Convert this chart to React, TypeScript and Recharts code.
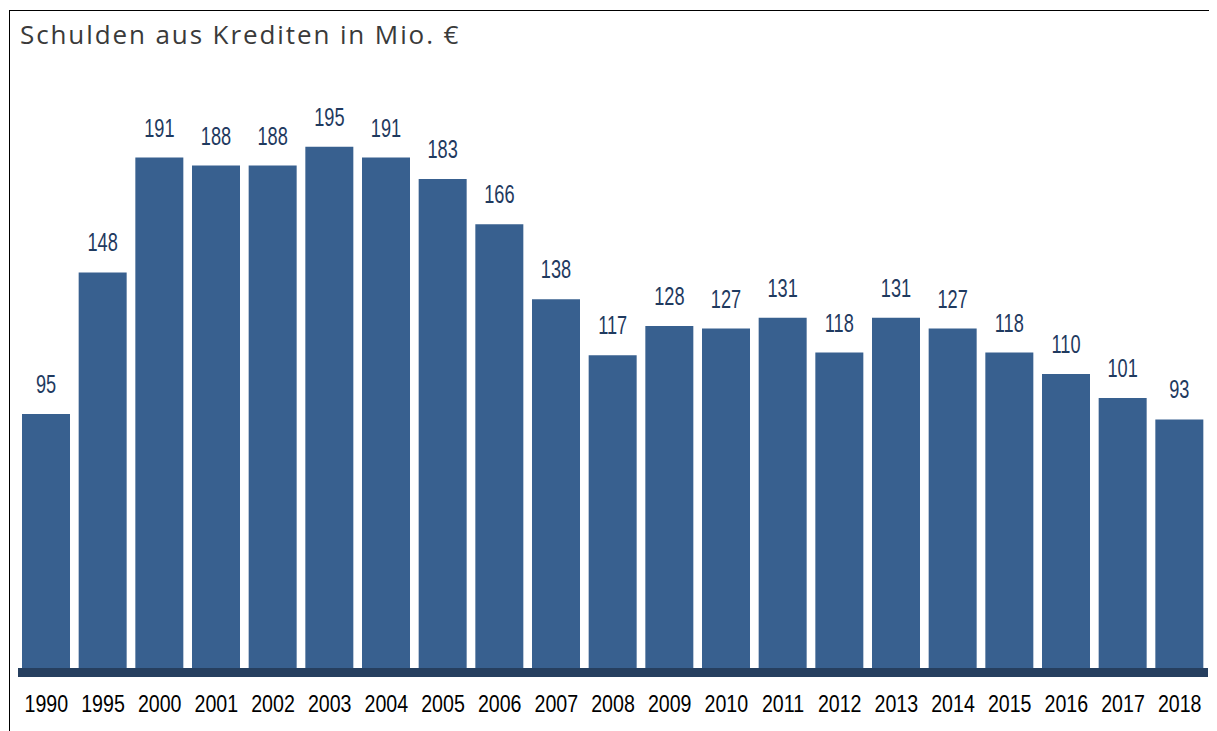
import React from 'react';
import { BarChart, Bar, XAxis, YAxis, LabelList } from 'recharts';

const years = ['1990', '1995', '2000', '2001', '2002', '2003', '2004', '2005', '2006', '2007', '2008', '2009', '2010', '2011', '2012', '2013', '2014', '2015', '2016', '2017', '2018'];
const debts = [95, 148, 191, 188, 188, 195, 191, 183, 166, 138, 117, 128, 127, 131, 118, 131, 127, 118, 110, 101, 93];

const data = years.map((y, i) => ({ year: y, value: debts[i] }));

const sans = '"Liberation Sans", Arial, sans-serif';

// value above each bar, squeezed horizontally like the original narrow font
const ValueLabel = (props: any) => {
    const { x, y, width, value } = props;
    const cx = x + width / 2;
    const cy = y - 21;
    return (
        <text
            transform={`translate(${cx},${cy}) scale(0.7,1)`}
            textAnchor="middle"
            fontFamily={sans}
            fontSize={26}
            fill="#1f3a5f"
        >
            {value}
        </text>
    );
};

const YearTick = (props: any) => {
    const { x, y, payload } = props;
    return (
        <text
            transform={`translate(${x},${y}) scale(0.8,1)`}
            textAnchor="middle"
            fontFamily={sans}
            fontSize={24.5}
            fill="#000"
        >
            {payload.value}
        </text>
    );
};

export default function App() {
    return (
        <div style={{ position: 'relative', width: 1209, height: 723, background: '#fff' }}>
            <div style={{ position: 'absolute', left: 1, top: 2, width: 1208, height: 721, borderTop: '1.5px solid #000', borderLeft: '1.5px solid #000' }} />
            <div style={{ position: 'absolute', left: 12, top: 11, fontFamily: '"Open Sans", sans-serif', fontSize: 26, letterSpacing: 1.9, color: '#3a3a3a', whiteSpace: 'nowrap', lineHeight: '30px' }}>
                Schulden aus Krediten in Mio. €
            </div>
            <BarChart width={1209} height={723} data={data} margin={{ top: 72, right: 9, left: 10, bottom: 0 }} barSize={48}>
                <XAxis
                    dataKey="year"
                    height={63}
                    tickLine={false}
                    tickSize={0}
                    tickMargin={44}
                    interval={0}
                    axisLine={{ stroke: '#263f5f', strokeWidth: 9, transform: 'translate(0,4.5)' }}
                    tick={<YearTick />}
                />
                <YAxis hide domain={[0, 220]} />
                <Bar dataKey="value" fill="#38608f" isAnimationActive={false}>
                    <LabelList dataKey="value" content={ValueLabel} />
                </Bar>
            </BarChart>
        </div>
    );
}
